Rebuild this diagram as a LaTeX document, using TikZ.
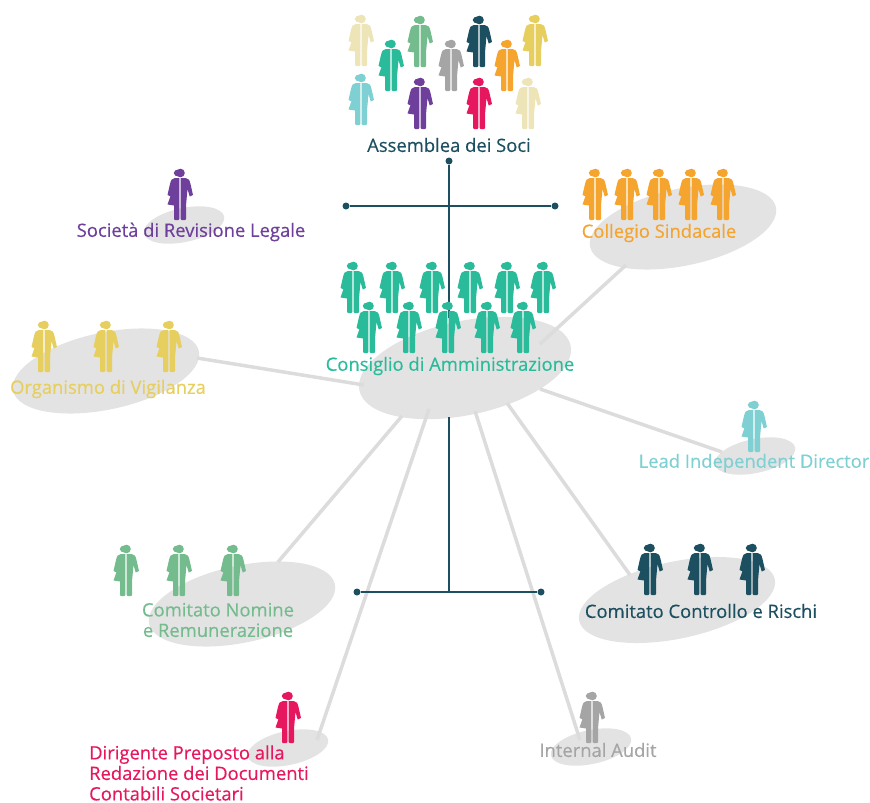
\documentclass[tikz,border=0pt]{standalone}
\usepackage{fontspec}
\setmainfont{Open Sans}[FakeBold=0.35]
\usetikzlibrary{shapes.geometric}

\definecolor{cTeal}{HTML}{2ABB9B}
\definecolor{cDark}{HTML}{1C4F60}
\definecolor{cOrange}{HTML}{F5A42D}
\definecolor{cYellow}{HTML}{E7CF5F}
\definecolor{cCream}{HTML}{EDE4B8}
\definecolor{cGreen}{HTML}{74BC8E}
\definecolor{cGrey}{HTML}{A5A5A5}
\definecolor{cPurple}{HTML}{6F3F9C}
\definecolor{cPink}{HTML}{E6175F}
\definecolor{cSky}{HTML}{7FD0D2}
\definecolor{cDisc}{HTML}{E3E3E3}
\definecolor{cLink}{HTML}{DCDCDC}

\tikzset{
  disc/.style={ellipse,fill=cDisc,inner sep=0pt,rotate=12},
  bigdisc/.style={disc,minimum width=190pt,minimum height=77pt},
  smalldisc/.style={disc,minimum width=82pt,minimum height=34pt},
  link/.style={cLink,line width=3.5pt},
  trunk/.style={cDark,line width=1.6pt},
  dot/.style={circle,fill=cDark,inner sep=0pt,minimum size=7pt},
  lbl/.style={font=\fontsize{18.4}{20.5}\selectfont,inner sep=0pt},
  pics/person/.style={code={
    \fill[#1] (-0.6,-16) -- (-5,-16) .. controls (-8,-16) and (-9,-14) .. (-10,-10)
      -- (-12.5,1) -- (-9.2,2.5) -- (-7,-5) -- (-12.5,10.5) -- (-6,11.5)
      -- (-6,25) [rounded corners=1pt] -- (-6,26) -- (-0.6,26) [sharp corners] -- cycle;
    \fill[#1] (0.6,-16) -- (5.5,-16) .. controls (8.5,-16) and (9.5,-14) .. (10.5,-10)
      -- (13,1) -- (9.7,2.5) -- (7.5,-5) -- (6,11.5) -- (6,25)
      [rounded corners=1pt] -- (6,26) -- (0.6,26) [sharp corners] -- cycle;
    \fill[#1] (0.5,-21) circle [radius=4.3pt];
    \fill[#1] (-1,-21) ellipse [x radius=5.3pt,y radius=3.6pt];
  }},
}

\begin{document}
\begin{tikzpicture}[x=1pt,y=-1pt]
  \useasboundingbox (0,0) rectangle (870,803);

  % discs
  \node[disc,minimum width=216pt,minimum height=94pt] (cda) at (465,368) {};
  \node[bigdisc] (col) at (683,227) {};
  \node[bigdisc] (odv) at (106,371) {};
  \node[bigdisc,minimum width=200pt] (ccr) at (677,600) {};
  \node[bigdisc] (cnr) at (242,604) {};
  \node[smalldisc] (rev) at (184,225) {};
  \node[smalldisc] (lid) at (755,456) {};
  \node[smalldisc] (dir) at (288,748) {};
  \node[smalldisc] (aud) at (591,747) {};

  % ends of the grey links
  \coordinate (cdaCol) at (540,344);
  \coordinate (cdaOdv) at (364,385);
  \coordinate (cdaLid) at (540,389);
  \coordinate (cdaCcr) at (507,403);
  \coordinate (cdaCnr) at (402,416);
  \coordinate (cdaDir) at (429,409);
  \coordinate (cdaAud) at (475,411);
  \coordinate (colEnd) at (626,265);
  \coordinate (odvEnd) at (197,358);
  \coordinate (lidEnd) at (722,452);
  \coordinate (ccrEnd) at (630,575);
  \coordinate (cnrEnd) at (278,562);
  \coordinate (dirEnd) at (317,740);
  \coordinate (audEnd) at (580,740);

  \draw[link] (cdaCol) -- (colEnd);
  \draw[link] (cdaOdv) -- (odvEnd);
  \draw[link] (cdaLid) -- (lidEnd);
  \draw[link] (cdaCcr) -- (ccrEnd);
  \draw[link] (cdaCnr) -- (cnrEnd);
  \draw[link] (cdaDir) -- (dirEnd);
  \draw[link] (cdaAud) -- (audEnd);

  % dark tree
  \node[dot] (top) at (449,161) {};
  \node[dot] (midL) at (346,206) {};
  \node[dot] (midR) at (555,206) {};
  \node[dot] (lowL) at (357,592) {};
  \node[dot] (lowR) at (541,592) {};
  \coordinate (midC) at (449,206);
  \coordinate (lowC) at (449,592);
  \draw[trunk] (midL) -- (midR);
  \draw[trunk] (lowL) -- (lowR);
  \draw[trunk] (top) -- (midC) -- (449,318);
  \draw[trunk] (449,417) -- (lowC);

  % people
  \foreach \px/\py/\pc in {361/40/cCream,391/65/cTeal,420/41/cGreen,451/65/cGrey,
      479/41/cDark,507/65/cOrange,535/40/cYellow,361/99/cSky,420/103/cPurple,
      479/103/cPink,528/103/cCream}
    \pic at (\px,\py) {person=\pc};
  \foreach \px/\py in {353/287,392/287,432/287,470/287,507/287,543/287,
      369/327,409/327,448/327,487/327,523/327}
    \pic at (\px,\py) {person=cTeal};
  \foreach \px in {595,627,659,691,723}
    \pic at (\px,194) {person=cOrange};
  \foreach \px in {44,106,169}
    \pic at (\px,346) {person=cYellow};
  \foreach \px in {650,700,752}
    \pic at (\px,569) {person=cDark};
  \foreach \px in {126,179,233}
    \pic at (\px,570) {person=cGreen};
  \pic at (180,194) {person=cPurple};
  \pic at (754,426) {person=cSky};
  \pic at (288,717) {person=cPink};
  \pic at (592,717) {person=cGrey};

  % labels
  \node[lbl,text=cDark] (tAss) at (449,145) {Assemblea dei Soci};
  \node[lbl,text=cPurple] (tRev) at (191,232) {Società di Revisione Legale};
  \node[lbl,text=cOrange] (tCol) at (659,233) {Collegio Sindacale};
  \node[lbl,text=cTeal] (tCda) at (450,366) {Consiglio di Amministrazione};
  \node[lbl,text=cYellow] (tOdv) at (108,389) {Organismo di Vigilanza};
  \node[lbl,text=cSky] (tLid) at (754,463) {Lead Independent Director};
  \node[lbl,text=cGreen,align=center] (tCnr) at (218,620) {Comitato Nomine\\e Remunerazione};
  \node[lbl,text=cDark] (tCcr) at (701,611) {Comitato Controllo e Rischi};
  \node[lbl,text=cPink,align=left,anchor=west] (tDir) at (89,773) {Dirigente Preposto alla\\Redazione dei Documenti\\Contabili Societari};
  \node[lbl,text=cGrey] (tAud) at (598,750) {Internal Audit};
\end{tikzpicture}
\end{document}
